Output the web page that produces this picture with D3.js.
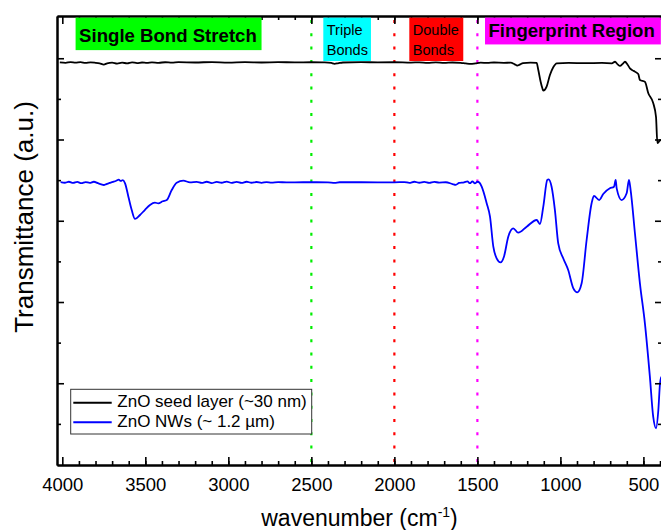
<!DOCTYPE html>
<html>
<head>
<meta charset="utf-8">
<script src="https://cdn.jsdelivr.net/npm/d3@7/dist/d3.min.js"></script>
<style>
  body { margin: 0; background: #fff; }
  svg { display: block; font-family: "Liberation Sans", Arial, sans-serif; }
</style>
</head>
<body>
<div id="chart"></div>
<script>
// FTIR spectra, [wavenumber (cm-1), transmittance (a.u.)]
var seedLayer = [
  [4015,4.950],[3980,4.944],[3950,4.953],[3920,4.946],[3890,4.952],[3860,4.942],[3830,4.950],[3800,4.944],
  [3775,4.936],[3750,4.922],[3730,4.938],[3700,4.946],[3670,4.934],[3640,4.945],[3610,4.938],[3580,4.950],
  [3550,4.940],[3520,4.948],[3490,4.942],[3460,4.950],[3420,4.944],[3380,4.951],[3340,4.945],[3300,4.952],
  [3200,4.948],[3100,4.953],[3000,4.947],[2900,4.952],[2800,4.948],[2700,4.952],[2600,4.949],[2500,4.951],
  [2420,4.950],[2380,4.942],[2360,4.932],[2340,4.938],[2310,4.948],[2200,4.952],[2100,4.950],[2000,4.951],
  [1900,4.946],[1850,4.950],[1800,4.944],[1750,4.950],[1700,4.943],[1650,4.948],[1600,4.944],[1570,4.936],
  [1540,4.930],[1510,4.938],[1480,4.945],[1440,4.942],[1400,4.948],[1340,4.944],[1300,4.945],[1275,4.925],
  [1260,4.910],[1245,4.922],[1225,4.940],[1180,4.945],[1143,4.942],[1133,4.855],[1119,4.711],[1109,4.634],
  [1103,4.601],[1083,4.650],[1063,4.794],[1043,4.889],[1022,4.938],[950,4.942],[850,4.940],[750,4.942],
  [690,4.938],[671,4.957],[655,4.925],[641,4.905],[625,4.930],[611,4.957],[595,4.920],[581,4.876],
  [560,4.845],[531,4.806],[521,4.732],[491,4.711],[471,4.572],[441,4.449],[424,4.277],[416,3.957],
  [408,3.970],[400,3.994],[392,3.990]
];

var nanowires = [
  [4010,3.475],[3985,3.468],[3960,3.480],[3935,3.466],[3910,3.478],[3885,3.462],[3860,3.476],[3835,3.466],
  [3810,3.480],[3785,3.462],[3765,3.448],[3750,3.440],[3735,3.452],[3715,3.465],[3695,3.478],[3675,3.492],
  [3660,3.505],[3648,3.490],[3635,3.500],[3622,3.461],[3602,3.296],[3582,3.132],[3562,3.022],[3532,3.071],
  [3502,3.135],[3472,3.194],[3442,3.222],[3422,3.215],[3395,3.240],[3371,3.255],[3341,3.378],[3311,3.468],
  [3271,3.493],[3231,3.473],[3190,3.478],[3160,3.466],[3130,3.480],[3100,3.464],[3070,3.478],[3040,3.468],
  [3010,3.482],[2980,3.466],[2950,3.478],[2920,3.465],[2890,3.480],[2860,3.468],[2830,3.477],[2800,3.466],
  [2770,3.476],[2740,3.470],[2700,3.476],[2650,3.472],[2550,3.474],[2400,3.473],[2360,3.466],[2330,3.474],
  [2200,3.474],[2000,3.473],[1940,3.476],[1910,3.466],[1880,3.480],[1850,3.468],[1820,3.478],[1790,3.466],
  [1760,3.478],[1730,3.470],[1690,3.474],[1650,3.452],[1630,3.442],[1610,3.465],[1580,3.472],[1560,3.485],
  [1545,3.462],[1530,3.484],[1515,3.460],[1500,3.480],[1488,3.470],[1474,3.419],[1444,3.215],[1424,3.050],
  [1404,2.681],[1384,2.538],[1360,2.488],[1340,2.558],[1314,2.804],[1284,2.907],[1254,2.853],[1203,2.927],
  [1143,3.009],[1123,2.960],[1103,3.173],[1079,3.502],[1071,3.510],[1053,3.419],[1033,3.132],[1013,2.722],
  [983,2.538],[953,2.394],[922,2.168],[898,2.119],[872,2.230],[842,2.763],[812,3.215],[798,3.305],
  [766,3.255],[742,3.329],[702,3.399],[677,3.419],[667,3.502],[661,3.399],[631,3.255],[601,3.338],
  [587,3.502],[577,3.378],[551,2.846],[521,2.230],[491,1.738],[461,1.081],[441,0.588],[424,0.446],
  [410,0.671],[400,0.999],[392,1.080]
];

var seriesNames = ["ZnO seed layer (~30 nm)", "ZnO NWs (~ 1.2 \u00b5m)"];
var xTicks = [4000, 3500, 3000, 2500, 2000, 1500, 1000, 500];
var xMinor = d3.range(3900, 399, -100);
var yTicks = [1, 2, 3, 4, 5];
var yMinor = [0.5, 1.5, 2.5, 3.5, 4.5];

// bond regions: [label lines, from wn, to wn, bottom of box]
var regions = [
  [["Single Bond Stretch"], 3920, 2800, 5.10],
  [["Triple", "Bonds"], 2428, 2141, 4.966],
  [["Double", "Bonds"], 1910, 1585, 4.966],
  [["Fingerprint Region"], 1454, 395, 5.17]
];
var dividers = [2500, 2000, 1500];

var regionColors = ["#00ff00", "#00ffff", "#ff0000", "#ff00ff"];
var dividerColors = ["#00ee00", "#ff0000", "#ff00ff"];

var W = 661, H = 530;
var margin = { left: 57, right: 662, top: 16, bottom: 465 };

var svg = d3.select("#chart").append("svg")
    .attr("width", W)
    .attr("height", H);

var x = d3.scaleLinear().domain([4032, 388]).range([margin.left, margin.right]);
var y = d3.scaleLinear().domain([-0.006, 5.52]).range([margin.bottom, margin.top]);

// divider dotted lines
svg.selectAll(".divider")
    .data(dividers)
    .enter().append("line")
    .attr("x1", function (d) { return x(d); })
    .attr("x2", function (d) { return x(d); })
    .attr("y1", margin.top + 4)
    .attr("y2", margin.bottom)
    .attr("stroke", function (d, i) { return dividerColors[i]; })
    .attr("stroke-width", 2.2)
    .attr("stroke-dasharray", "3,10.3");

// spectra
var line = d3.line()
    .curve(d3.curveMonotoneX)
    .x(function (d) { return x(d[0]); })
    .y(function (d) { return y(d[1]); });

svg.append("path")
    .datum(seedLayer)
    .attr("fill", "none")
    .attr("stroke", "#000")
    .attr("stroke-width", 1.8)
    .attr("stroke-linejoin", "round")
    .attr("d", line);

svg.append("path")
    .datum(nanowires)
    .attr("fill", "none")
    .attr("stroke", "#0000ff")
    .attr("stroke-width", 1.8)
    .attr("stroke-linejoin", "round")
    .attr("d", line);

// axes with inward ticks
function styleAxis(g) {
  g.select(".domain").attr("stroke", "#000").attr("stroke-width", 2);
  g.selectAll(".tick line").attr("stroke", "#000").attr("stroke-width", 1.6);
}

svg.append("g")
    .attr("transform", "translate(0," + margin.bottom + ")")
    .call(d3.axisBottom(x).tickValues(xTicks).tickSize(-8).tickSizeOuter(0)
        .tickPadding(13).tickFormat(d3.format("d")))
    .call(styleAxis)
    .call(function (g) {
      g.selectAll(".tick text")
        .attr("fill", "#000")
        .style("font-size", "18.5px")
        .style("font-family", "'Liberation Sans', Arial, sans-serif");
    });
svg.append("g")
    .attr("transform", "translate(0," + margin.bottom + ")")
    .call(d3.axisBottom(x).tickValues(xMinor).tickSize(-4).tickFormat("").tickSizeOuter(0))
    .call(styleAxis);

svg.append("g")
    .attr("transform", "translate(0," + margin.top + ")")
    .call(d3.axisTop(x).tickValues(xTicks).tickSize(-8).tickFormat("").tickSizeOuter(0))
    .call(styleAxis);
svg.append("g")
    .attr("transform", "translate(0," + margin.top + ")")
    .call(d3.axisTop(x).tickValues(xMinor).tickSize(-4).tickFormat("").tickSizeOuter(0))
    .call(styleAxis);

svg.append("g")
    .attr("transform", "translate(" + margin.left + ",0)")
    .call(d3.axisLeft(y).tickValues(yTicks).tickSize(-7).tickFormat("").tickSizeOuter(0))
    .call(styleAxis);
svg.append("g")
    .attr("transform", "translate(" + margin.left + ",0)")
    .call(d3.axisLeft(y).tickValues(yMinor).tickSize(-4).tickFormat("").tickSizeOuter(0))
    .call(styleAxis);

svg.append("g")
    .attr("transform", "translate(" + margin.right + ",0)")
    .call(d3.axisRight(y).tickValues(yTicks).tickSize(-7).tickFormat("").tickSizeOuter(0))
    .call(styleAxis);
svg.append("g")
    .attr("transform", "translate(" + margin.right + ",0)")
    .call(d3.axisRight(y).tickValues(yMinor).tickSize(-4).tickFormat("").tickSizeOuter(0))
    .call(styleAxis);

// axis titles
var xt = svg.append("text")
    .attr("x", (margin.left + margin.right) / 2)
    .attr("y", 526)
    .attr("text-anchor", "middle")
    .style("font-size", "23px")
    .attr("fill", "#000");
xt.append("tspan").text("wavenumber (cm");
xt.append("tspan").attr("dy", -9).style("font-size", "14px").text("-1");
xt.append("tspan").attr("dy", 9).text(")");

svg.append("text")
    .attr("transform", "translate(33,217) rotate(-90)")
    .attr("text-anchor", "middle")
    .style("font-size", "26px")
    .attr("fill", "#000")
    .text("Transmittance (a.u.)");

// region labels
regions.forEach(function (r, i) {
  var x0 = x(r[1]), x1 = Math.min(x(r[2]), W);
  svg.append("rect")
      .attr("x", x0)
      .attr("y", y(5.5))
      .attr("width", x1 - x0)
      .attr("height", y(r[3]) - y(5.5))
      .attr("fill", regionColors[i]);
  var two = r[0].length > 1;
  r[0].forEach(function (t, j) {
    svg.append("text")
        .attr("x", x0 + 3.5)
        .attr("y", two ? 35 + j * 20 : (i === 0 ? 42.3 : 36.7))
        .style("font-size", two ? "14.5px" : "18.6px")
        .style("font-weight", two ? "normal" : "bold")
        .attr("fill", "#000")
        .text(t);
  });
});

// legend
var lg = svg.append("g");
lg.append("rect")
    .attr("x", 70.7).attr("y", 389.3)
    .attr("width", 241).attr("height", 44.7)
    .attr("fill", "#fff")
    .attr("stroke", "#333")
    .attr("stroke-width", 1);
[seedLayer, nanowires].forEach(function (s, i) {
  lg.append("line")
      .attr("x1", 73.3).attr("x2", 111.7)
      .attr("y1", 402.7 + i * 19.6).attr("y2", 402.7 + i * 19.6)
      .attr("stroke", i === 0 ? "#000" : "#0000ff")
      .attr("stroke-width", 2);
  lg.append("text")
      .attr("x", 117.3)
      .attr("y", 406.7 + i * 20)
      .style("font-size", "17px")
      .attr("fill", "#000")
      .text(seriesNames[i]);
});
</script>
</body>
</html>
